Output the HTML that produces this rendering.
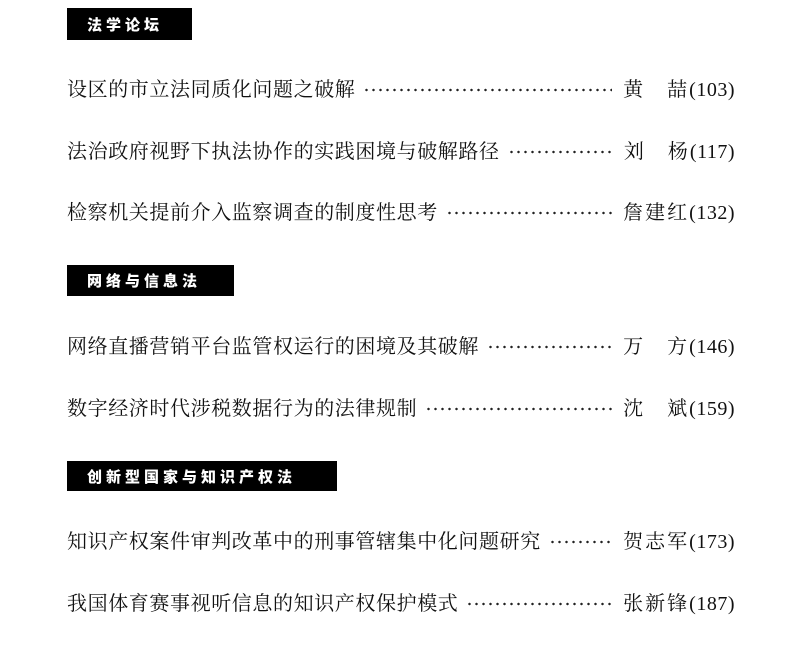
<!DOCTYPE html>
<html><head><meta charset="utf-8"><style>
body{margin:0;width:799px;height:661px;background:#fff;position:relative;overflow:hidden;font-family:"Liberation Serif","Noto Serif CJK SC",serif;color:#111}
.h{position:absolute;left:67px;background:#000;color:#fff;font-family:"Liberation Sans","Noto Sans CJK SC",sans-serif;font-weight:900;font-size:15px;letter-spacing:4px;display:flex;align-items:center;padding-left:20px;box-sizing:border-box}
.r{position:absolute;left:67px;width:545px;height:24px;line-height:24px;display:flex;align-items:center;font-size:20px;letter-spacing:0.6px;white-space:nowrap}
.d{flex:1;height:4px;margin-left:8px;background:radial-gradient(circle,#222 1.1px,transparent 1.4px) 0 0/7px 4px repeat-x}
.a{position:absolute;right:64px;font-size:20px;height:24px;line-height:24px;white-space:nowrap;letter-spacing:2px}
.a span{font-family:"Liberation Serif",serif;letter-spacing:0.5px;font-size:20px}
</style></head><body>
<div class="h" style="top:8px;width:125px;height:32px">法学论坛</div>
<div class="h" style="top:265px;width:167px;height:31px">网络与信息法</div>
<div class="h" style="top:461px;width:270px;height:30px">创新型国家与知识产权法</div>

<div class="r" style="top:78px">设区的市立法同质化问题之破解<div class="d"></div></div>
<div class="a" style="top:78px">黄　喆<span>(103)</span></div>
<div class="r" style="top:140px">法治政府视野下执法协作的实践困境与破解路径<div class="d"></div></div>
<div class="a" style="top:140px">刘　杨<span>(117)</span></div>
<div class="r" style="top:201px">检察机关提前介入监察调查的制度性思考<div class="d"></div></div>
<div class="a" style="top:201px">詹建红<span>(132)</span></div>
<div class="r" style="top:335px">网络直播营销平台监管权运行的困境及其破解<div class="d"></div></div>
<div class="a" style="top:335px">万　方<span>(146)</span></div>
<div class="r" style="top:397px">数字经济时代涉税数据行为的法律规制<div class="d"></div></div>
<div class="a" style="top:397px">沈　斌<span>(159)</span></div>
<div class="r" style="top:530px">知识产权案件审判改革中的刑事管辖集中化问题研究<div class="d"></div></div>
<div class="a" style="top:530px">贺志军<span>(173)</span></div>
<div class="r" style="top:592px">我国体育赛事视听信息的知识产权保护模式<div class="d"></div></div>
<div class="a" style="top:592px">张新锋<span>(187)</span></div>
</body></html>
